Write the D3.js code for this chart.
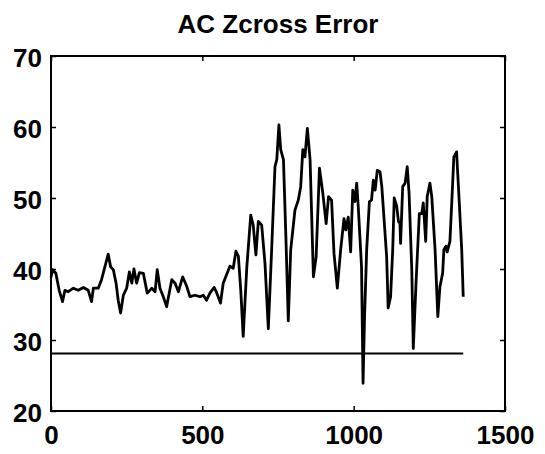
<!DOCTYPE html>
<html>
<head>
<meta charset="utf-8">
<script src="https://cdn.jsdelivr.net/npm/d3@7"></script>
<style>
  html, body { margin: 0; padding: 0; background: #fff; }
  svg { display: block; }
  text { font-family: "Liberation Sans", Arial, Helvetica, sans-serif; }
</style>
</head>
<body>
<div id="chart"></div>
<script>
const title = "AC Zcross Error";
const xTicks = [0, 500, 1000, 1500];
const yTicks = [20, 30, 40, 50, 60, 70];
const xDomain = [0, 1500];
const yDomain = [20, 70];

const sampleX = [0,5,16,27,38,46,57,74,90,107,123,134,140,156,167,178,189,197,206,215,222,230,239,250,259,267,274,283,292,305,318,333,344,351,360,371,382,399,410,421,435,448,459,476,492,503,514,525,539,547,560,569,580,591,602,611,619,627,635,647,660,668,677,685,696,707,718,729,740,746,753,759,768,776,784,792,806,817,825,832,839,847,856,867,876,887,898,909,917,927,935,946,957,968,974,982,990,997,1004,1010,1015,1026,1031,1036,1043,1052,1059,1065,1071,1078,1087,1093,1100,1109,1114,1122,1129,1134,1142,1148,1153,1155,1162,1170,1177,1183,1192,1197,1206,1217,1225,1230,1238,1243,1252,1258,1269,1278,1285,1294,1298,1305,1309,1318,1326,1331,1340,1349,1357,1362];
const errorValues = [38.8,39.9,39.4,37.0,35.4,37.0,36.8,37.3,37.0,37.4,37.0,35.4,37.3,37.3,38.5,40.3,42.1,40.3,39.9,38.0,35.6,33.8,36.3,37.3,39.6,38.0,40.0,38.0,39.5,39.4,36.6,37.3,36.8,39.9,37.3,36.1,34.7,38.5,38.0,36.8,38.9,37.6,36.1,36.3,36.1,36.3,35.6,36.6,37.4,36.7,35.2,38.0,39.2,40.4,40.1,42.5,41.8,37.0,30.5,40.3,47.6,46.2,42.0,46.7,46.2,40.8,31.6,42.7,54.4,55.4,60.3,56.8,55.4,44.6,32.7,42.7,48.3,49.7,51.6,56.8,55.8,59.8,55.4,38.9,41.7,54.2,50.7,46.4,50.2,49.7,42.2,37.3,42.7,47.1,45.5,47.3,42.4,51.1,49.5,52.1,48.9,40.3,23.9,33.3,42.7,49.5,49.7,52.5,51.1,53.9,53.7,51.6,47.3,41.7,34.5,36.1,42.7,50.0,48.9,46.7,46.4,43.6,51.6,52.1,54.4,50.7,39.9,28.8,38.0,47.8,47.8,49.3,43.9,50.2,52.1,50.2,42.7,33.3,37.5,39.4,42.7,43.2,42.4,43.9,51.1,55.8,56.5,49.3,42.7,36.1];
const refX = [0, 1362];
const refValue = [28.1, 28.1];

const W = 545, H = 454;
const m = { left: 51, right: 40, top: 56, bottom: 43 };

const svg = d3.select("#chart").append("svg")
  .attr("width", W).attr("height", H)
  .style("background", "#fff");

const x = d3.scaleLinear().domain(xDomain).range([m.left, W - m.right]);
const y = d3.scaleLinear().domain(yDomain).range([H - m.bottom, m.top]);

const fs = 26;
const tickLen = 5;

const gB = svg.append("g").attr("transform", `translate(0,${H - m.bottom})`)
  .call(d3.axisBottom(x).tickValues(xTicks).tickFormat(d3.format("d")).tickSizeInner(-tickLen).tickSizeOuter(0).tickPadding(15));
const gT = svg.append("g").attr("transform", `translate(0,${m.top})`)
  .call(d3.axisTop(x).tickValues(xTicks).tickFormat("").tickSizeInner(-tickLen).tickSizeOuter(0));
const gL = svg.append("g").attr("transform", `translate(${m.left},0)`)
  .call(d3.axisLeft(y).tickValues(yTicks).tickFormat(d3.format("d")).tickSizeInner(-tickLen).tickSizeOuter(0).tickPadding(9));
const gR = svg.append("g").attr("transform", `translate(${W - m.right},0)`)
  .call(d3.axisRight(y).tickValues(yTicks).tickFormat("").tickSizeInner(-tickLen).tickSizeOuter(0));

[gB, gT, gL, gR].forEach(g => {
  g.select(".domain").remove();
  g.selectAll(".tick line").attr("stroke", "#000").attr("stroke-width", 1.5);
  g.selectAll(".tick text")
    .attr("fill", "#000")
    .style("font-size", fs + "px")
    .style("font-weight", "bold")
    .style("font-family", "'Liberation Sans', Arial, sans-serif");
});
gL.selectAll(".tick text").attr("dy", "0.4em");

svg.append("rect")
  .attr("x", x(xDomain[0])).attr("y", y(yDomain[1]))
  .attr("width", x(xDomain[1]) - x(xDomain[0]))
  .attr("height", y(yDomain[0]) - y(yDomain[1]))
  .attr("fill", "none").attr("stroke", "#000").attr("stroke-width", 2);

const refData = refX.map((d, i) => [d, refValue[i]]);
svg.append("path")
  .datum(refData)
  .attr("fill", "none").attr("stroke", "#000").attr("stroke-width", 2)
  .attr("d", d3.line().x(d => x(d[0])).y(d => y(d[1])));

const data = sampleX.map((d, i) => [d, errorValues[i]]);
svg.append("path")
  .datum(data)
  .attr("fill", "none").attr("stroke", "#000").attr("stroke-width", 2.8)
  .attr("stroke-linejoin", "round")
  .attr("d", d3.line().x(d => x(d[0])).y(d => y(d[1])));

svg.append("text")
  .attr("x", (x(xDomain[0]) + x(xDomain[1])) / 2)
  .attr("y", 33)
  .attr("text-anchor", "middle")
  .style("font-size", "26px")
  .style("font-weight", "bold")
  .attr("fill", "#000")
  .text(title);
</script>
</body>
</html>
